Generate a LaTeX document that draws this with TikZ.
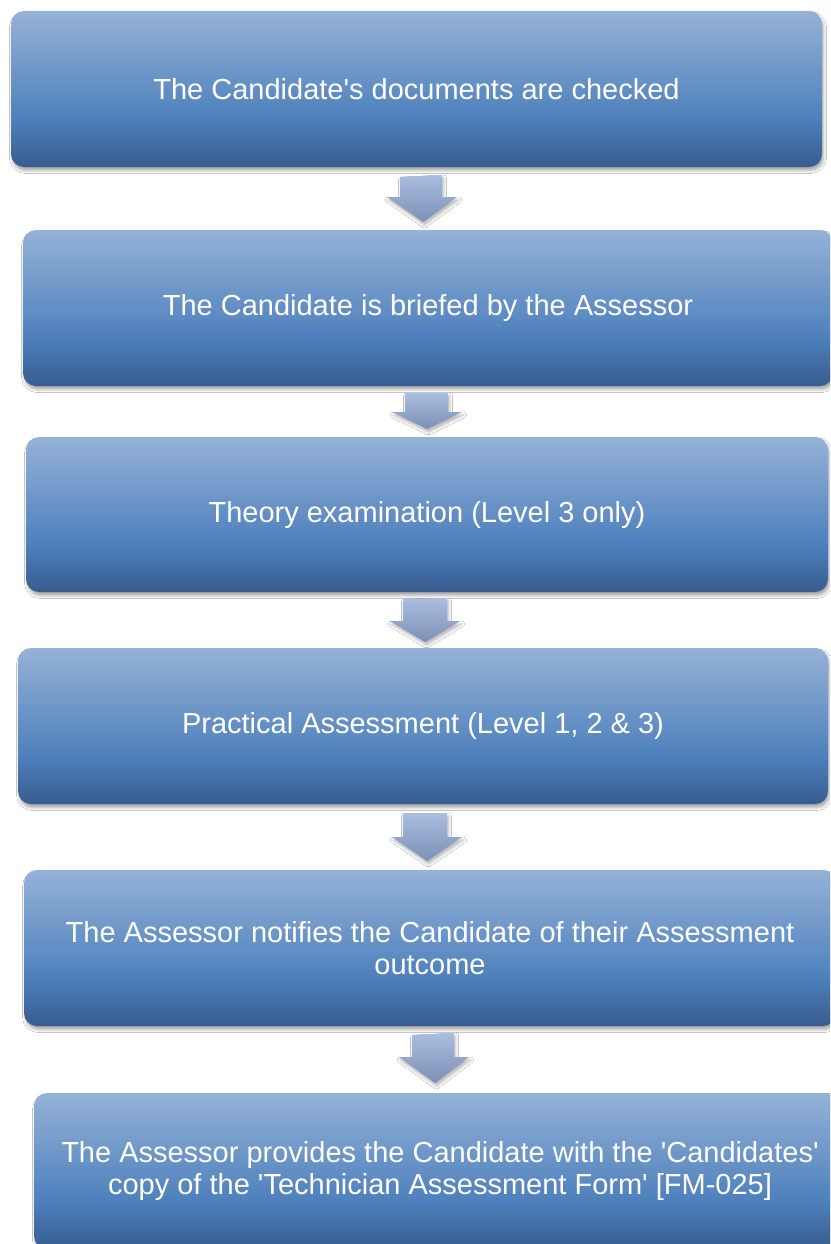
\documentclass[tikz,border=0pt]{standalone}
\usepackage{fontspec}
\setmainfont{Liberation Sans}[Ligatures=TeXOff]
\usetikzlibrary{shadows.blur}
\definecolor{bdark}{RGB}{56,92,143}
\definecolor{bmid}{RGB}{79,129,189}
\definecolor{blight}{RGB}{149,178,215}
\definecolor{alight}{RGB}{170,190,224}
\definecolor{adark}{RGB}{124,143,182}
\pgfdeclareverticalshading{boxshade}{100bp}{color(0bp)=(bdark); color(25bp)=(bdark); color(41bp)=(bmid); color(75bp)=(blight); color(100bp)=(blight)}
\pgfdeclareverticalshading{arrshade}{100bp}{color(0bp)=(adark); color(25bp)=(adark); color(75bp)=(alight); color(100bp)=(alight)}
\newcommand\blockarr[9]{%
  \path[arrowsty] (#1,#3) -- (#2,#9) -- (#2,#4) -- (#6,#4) -- (#7,#8) -- (#5,#4) -- (#1,#4) -- cycle;}
\begin{document}
\begin{tikzpicture}[x=1pt,y=-1pt,
  stepbox/.style={rounded corners=13pt, shading=boxshade, minimum height=156pt,
    text=white, align=center, inner sep=0pt,
    font=\fontsize{29}{32}\selectfont,
    blur shadow={shadow xshift=1.5pt, shadow yshift=-3.5pt, shadow blur steps=6, shadow opacity=35, shadow blur radius=3pt}},
  arrowsty/.style={shading=arrshade,
    blur shadow={shadow xshift=1.5pt, shadow yshift=-3pt, shadow blur steps=5, shadow opacity=30, shadow blur radius=3pt}}]
\useasboundingbox (0,0) rectangle (830,1244);
\clip (0,0) rectangle (830,1244);
\fill[white] (0,0) rectangle (830,1244);
\node[stepbox, minimum width=811pt] (b1) at (416.5,89) {The Candidate's documents are checked};
\node[stepbox, minimum width=810pt] (b2) at (428,308) {The Candidate is briefed by the Assessor};
\node[stepbox, minimum width=802pt, minimum height=155pt] (b3) at (427,514.5) {Theory examination (Level 3 only)};
\node[stepbox, minimum width=810pt] (b4) at (423,726) {Practical Assessment (Level 1, 2 \& 3)};
\node[stepbox, minimum width=812pt] (b5) at (430,948) {The Assessor notifies the Candidate of their Assessment\\outcome};
\node[stepbox, minimum width=812pt] (b6) at (440,1171) {The Assessor provides the Candidate with the 'Candidates'\\copy of the 'Technician Assessment Form' [FM-025]};
\blockarr{400}{442}{177}{197}{387}{457}{423}{222}{175}
\blockarr{405}{448}{393}{412}{392}{462}{427}{429}{393}
\blockarr{403}{447}{599}{621}{390}{460}{425}{642}{598}
\blockarr{403}{447}{813}{837}{392}{462}{427}{861}{813}
\blockarr{412}{454}{1035}{1057}{399}{469}{435}{1083}{1033}
\end{tikzpicture}
\end{document}
